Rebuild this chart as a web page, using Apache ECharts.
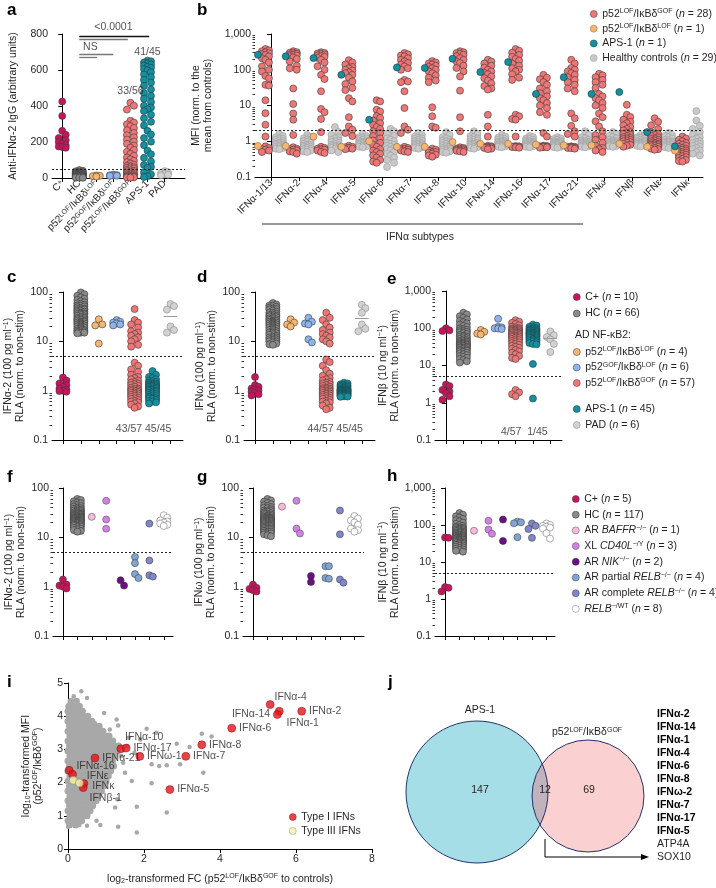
<!DOCTYPE html>
<html>
<head>
<meta charset="utf-8">
<script src="https://cdn.jsdelivr.net/npm/echarts@6.0.0/dist/echarts.min.js"></script>
<style>
html,body{margin:0;padding:0;background:#ffffff;}
#chart{width:716px;height:888px;}
</style>
</head>
<body>
<div id="chart"></div>
<script>
// ======================= DATA =======================
// ---- Panel a: anti-IFN-α2 IgG (arbitrary units)
const aCategories = ['C^{+}', 'HC', 'p52^{LOF}/IκBδ^{LOF}', 'p52^{GOF}/IκBδ^{LOF}', 'p52^{LOF}/IκBδ^{GOF}', 'APS-1', 'PAD'];
const aCpos = [425,345,262,240,222,210,200,190,182,175,172,168];
const aHC = [44,40,37,35,33,31,29,28,27,26,25,24,23,22,21,20,19,18,17,16,15,14,13,12,11,10,9,8,7,6,5,4,3,2,1];
const aLL = [14,12,10,8];
const aGL = [18,16,15,14,13,12];
const aLG = [418,402,380,318,308,298,288,278,265,250,238,226,214,202,190,180,168,156,146,134,124,114,104,96,88,80,74,68,64,60,57,54,52,
             46,43,40,37,34,31,28,25,22,20,18,16,14,12,10,9,8,7,6,5,4,3,2];
const aAPS = [652,648,642,636,630,625,618,612,605,598,588,575,560,545,530,512,492,472,456,440,422,402,392,382,372,352,332,312,292,262,242,222,202,182,152,132,112,92,72,62,56,30,20,10,5];
const aPAD = [38,32,28,22,18,15];
const aThreshold = 50;
const aSigBars = [[1,5.1,790],[1,3.85,772],[1,3,690],[1,2.05,672]];
const aTexts = [['<0.0001',3.0,838],['NS',1.65,725],['33/56',4,483],['41/45',5,700]];

// ---- Panel b: MFI normalized to mean of controls
const bCategories = ['IFNα-1/13','IFNα-2','IFNα-4','IFNα-5','IFNα-6','IFNα-7','IFNα-8','IFNα-10','IFNα-14','IFNα-16','IFNα-17','IFNα-21','IFNω','IFNβ','IFNε','IFNκ'];
const bPatientsGOF = [
 [380,350,330,310,290,275,260,235,210,190,160,124,100,89,67,58,38,36,14,6.1,2.9,1.35,0.72,0.65,0.6,0.55,0.5,0.58],
 [330,310,300,290,280,270,260,250,240,220,200,170,130,110,100,30,11,6,4,1.5,0.68,0.6,0.55,0.5,0.45,0.62,0.58,0.52],
 [310,295,285,275,265,250,240,230,215,190,160,125,100,72,55,25,8,6.5,4.2,1.8,0.7,0.62,0.58,0.55,0.5,0.47,0.6,0.65],
 [185,160,140,120,110,100,95,85,80,72,60,47,40,31,27,16,13,4.7,2.6,2.1,1.7,1.4,0.7,0.68,0.65,0.62,0.6,0.75],
 [14,13,7.6,6.8,5,4.5,3.8,3.2,2.9,2.5,2.2,1.9,1.7,1.4,1.2,1.05,0.9,0.8,0.7,0.6,0.55,0.5,0.45,0.4,0.35,0.3,0.27,0.25],
 [293,270,250,237,210,190,170,154,140,124,110,100,52,47,45,25,8.5,2.6,2.1,1.7,0.7,0.65,0.6,0.55,0.5,0.62,0.58,0.52],
 [175,160,150,140,130,120,110,100,90,80,70,60,50,45,8.9,5,2.6,2.4,0.62,0.55,0.5,0.45,0.4,0.37,0.5,0.48,0.42,0.58],
 [330,310,293,280,263,240,212,190,170,154,130,112,90,65,26,4.7,1.9,0.68,0.62,0.58,0.55,0.52,0.6,0.65,0.56,0.5,0.54,0.6],
 [190,170,150,130,115,100,90,82,75,65,58,50,42,35,30,28,5.5,2.6,1.35,0.75,0.7,0.68,0.65,0.6,0.72,0.66,0.62,0.7],
 [380,340,300,260,230,200,180,150,130,110,100,90,75,60,52,5.5,5,4.2,4,1.35,0.72,0.7,0.68,0.66,0.7,0.74,0.69,0.71],
 [72,60,54,45,38,30,25,22,18,16,14,11.7,10,8.5,6.5,5.5,1.7,1.35,0.72,0.7,0.68,0.66,0.7,0.74,0.69,0.71,0.7,0.75],
 [190,150,112,100,90,80,72,62,52,45,38,30,25,6,4.4,2.7,1.9,1.6,1.35,0.72,0.7,0.68,0.66,0.65,0.7,0.64,0.62,0.7],
 [77,70,62,52,45,38,31,21,18,16,14,11.7,10,8.5,6,4.7,3.6,2.6,1.9,1.5,1.3,1.1,0.9,0.75,0.65,0.6,0.55,0.5],
 [10.5,5.5,4.8,4,3.5,3.2,2.8,2.5,2.2,2,1.8,1.7,1.6,1.5,1.4,1.3,1.25,1.2,1.15,1.1,1.05,1,0.95,0.9,0.85,0.8,0.75,0.7],
 [4.4,3.5,2.8,2.2,1.8,1.6,1.5,1.4,1.3,1.2,1.15,1.1,1.05,1,0.95,0.9,0.88,0.85,0.82,0.8,0.78,0.75,0.72,0.7,0.65,0.62,0.6,0.58],
 [1.35,1.2,1.1,1,0.9,0.85,0.8,0.75,0.7,0.65,0.62,0.6,0.58,0.55,0.52,0.5,0.48,0.46,0.44,0.42,0.4,0.38,0.36,0.34,0.32,0.3,0.28,0.27]
];
const bPatientLOF = [0.74,0.74,1.35,0.7,1.0,0.7,0.7,0.95,0.85,0.85,0.81,0.77,0.77,0.85,0.7,0.55];
const bPatientAPS = [263,237,212,72,4,116,112,204,86,164,21,62,21,23.8,1.8,0.72];
const bControls = [
 [1.6,1.4,1.3,1.2,1.15,1.1,1.05,1,0.95,0.9,0.88,0.85,0.82,0.8,0.78,0.75,0.72,0.7,0.68,0.65,0.62,0.6],
 [1.5,1.3,1.2,1.1,1.05,1,0.95,0.9,0.85,0.8,0.78,0.75,0.72,0.7,0.68,0.65,0.62,0.6,0.58,0.55,0.52,0.5],
 [2.5,1.8,1.5,1.3,1.2,1.1,1.05,1,0.95,0.9,0.85,0.8,0.78,0.75,0.72,0.7,0.68,0.65,0.62,0.6,0.55,0.5],
 [1.6,1.4,1.3,1.25,1.2,1.15,1.1,1.05,1,0.97,0.95,0.92,0.9,0.88,0.85,0.82,0.8,0.78,0.75,0.72,0.7,0.68],
 [2.2,1.9,1.6,1.4,1.2,1.1,1,0.9,0.85,0.8,0.75,0.7,0.65,0.6,0.55,0.5,0.45,0.4,0.35,0.3,0.25,0.19],
 [1.7,1.5,1.35,1.25,1.2,1.15,1.1,1.05,1,0.95,0.9,0.88,0.85,0.82,0.8,0.77,0.75,0.72,0.7,0.68,0.65,0.62],
 [1.8,1.5,1.3,1.2,1.1,1.05,1,0.95,0.9,0.85,0.8,0.75,0.72,0.7,0.65,0.62,0.6,0.58,0.55,0.52,0.5,0.48],
 [1.9,1.6,1.4,1.3,1.2,1.15,1.1,1.05,1,0.95,0.9,0.88,0.85,0.82,0.8,0.78,0.75,0.72,0.7,0.68,0.65,0.62],
 [1.5,1.35,1.25,1.2,1.15,1.1,1.05,1,0.97,0.95,0.92,0.9,0.88,0.85,0.82,0.8,0.78,0.76,0.74,0.72,0.7,0.68],
 [1.4,1.3,1.2,1.15,1.1,1.05,1,0.97,0.95,0.92,0.9,0.88,0.86,0.84,0.82,0.8,0.78,0.76,0.74,0.72,0.7,0.68],
 [1.3,1.2,1.15,1.1,1.05,1,0.97,0.95,0.92,0.9,0.88,0.86,0.84,0.82,0.8,0.78,0.76,0.74,0.72,0.7,0.68,0.66],
 [1.9,1.5,1.3,1.2,1.1,1.05,1,0.97,0.95,0.92,0.9,0.88,0.86,0.84,0.82,0.8,0.78,0.76,0.74,0.72,0.7,0.68],
 [1.8,1.6,1.4,1.3,1.2,1.1,1.05,1,0.97,0.95,0.92,0.9,0.88,0.86,0.84,0.82,0.8,0.78,0.76,0.74,0.72,0.7],
 [1.5,1.4,1.3,1.25,1.2,1.15,1.1,1.05,1,0.97,0.95,0.92,0.9,0.88,0.86,0.84,0.82,0.8,0.78,0.76,0.74,0.72],
 [1.7,1.5,1.4,1.3,1.2,1.1,1.05,1,0.97,0.95,0.92,0.9,0.88,0.85,0.82,0.8,0.78,0.75,0.72,0.7,0.68,0.65],
 [7,3.8,2.7,2.2,1.8,1.5,1.3,1.2,1.1,1,0.95,0.9,0.85,0.8,0.75,0.7,0.65,0.6,0.55,0.5,0.45,0.4]
];
const bThreshold = 2;

// ---- Panels c–e: luciferase RLA (norm. to non-stim)
const cCpos = [1.85,1.6,1.4,1.3,1.2,1.1,1.05,1,0.98,0.95];
const cHC = [98,90,84,78,73,69,65,62,59,57,55,53,51,49,47,46,45,44,42,41,40,39,38,37,36,35,34,33,32,31,30,30,29,28,28,27,26,26,25,25,24,24,23,23,22,22,21,21,20,20,19,19,18,18,17,17,16.5,16,16,15.5,15,15,14.5,36,44,52];
const cLL = [28,22,21,9];
const cGL = [27,25,24,23,22,21];
const cLG = [45,27,24,22,19,16,15,14,13,12,11,10,8.5,7.8,
  3.7,3.2,2.7,2.4,2.1,1.9,1.8,1.7,1.6,1.5,1.45,1.4,1.35,1.3,1.25,1.2,1.15,1.1,1.08,1.05,1.02,1,0.98,0.95,0.92,0.9,0.88,0.85,0.82,0.8,0.78,0.75,0.72,0.7,0.68,0.65,0.62,0.6,0.58,0.55,0.52,0.48,0.45];
const cAPS = [2.5,2.1,1.9,1.8,1.7,1.6,1.55,1.5,1.45,1.4,1.38,1.35,1.32,1.3,1.28,1.25,1.22,1.2,1.18,1.15,1.12,1.1,1.08,1.05,1.02,1,0.98,0.95,0.93,0.9,0.88,0.85,0.82,0.8,0.78,0.75,0.72,0.7,0.68,0.65,0.62,0.6,0.58,0.55,0.7];
const cPAD = [57,52,44,20,17,15];
const cCounts = '43/57 45/45';

const dCpos = [1.9,1.3,1.2,1.1,1.05,1,0.95,0.9,0.85,0.8];
const dHC = [60,56,53,50,48,46,44,42,40,38,36,35,34,33,32,31,30,29,28,27,26,26,25,25,24,24,23,23,22,22,21,21,20,20,19,19,18,18,17,17,16,16,15,15,14.5,14,13.5,13,12.5,12,12,11.5,11,11,10.5,10,10,9.5,9,8.7,8.5,28,32,38,45,52];
const dLL = [28,24,22,20];
const dGL = [30,25,23,22,11,9.5];
const dLG = [38,30,27,22,19,17,15,14,13,12,11,10,9,
  4.3,3.8,3.2,2.6,2.2,2,1.8,1.7,1.6,1.5,1.45,1.4,1.35,1.3,1.25,1.2,1.15,1.12,1.1,1.08,1.05,1.02,1,0.98,0.95,0.92,0.9,0.88,0.85,0.82,0.8,0.78,0.75,0.72,0.7,0.68,0.65,0.62,0.6,0.58,0.55,0.5,0.45,0.42];
const dAPS = [1.45,1.4,1.35,1.3,1.28,1.25,1.22,1.2,1.18,1.15,1.12,1.1,1.08,1.06,1.05,1.04,1.03,1.02,1.01,1,0.99,0.98,0.97,0.96,0.95,0.94,0.93,0.92,0.91,0.9,0.89,0.88,0.87,0.86,0.85,0.84,0.83,0.82,0.81,0.8,0.79,0.78,0.77,0.76,0.75];
const dPAD = [55,47,38,22,18,16];
const dCounts = '44/57 45/45';

const eCpos = [100,88,84,3.1,2.8,2.2,2,1.8,1.5,1.2];
const eHC = [260,235,210,190,172,158,146,135,125,116,108,100,94,88,83,78,74,70,66,63,60,57,54,52,50,48,46,44,42,41,40,39,38,37,36,35,34,33,32,31,30,29,28,27,26,25,24,23,22,21,20,19,18,17,16,15,14,13,12,60,80,90,45,35,30,25];
const eLL = [90,80,72,68];
const eGL = [180,110,105,100,95,98];
const eLG = [165,150,140,130,120,110,105,100,98,95,92,90,88,85,82,80,78,76,74,72,70,68,66,64,62,60,58,56,54,52,50,48,46,44,42,40,38,36,34,32,30,28,26,24,22,20,18,16,15,60,75,85,95,2.2,1.9,1.7,1.5];
const eAPS = [125,118,110,105,100,98,95,92,90,88,85,82,80,78,76,74,72,70,68,66,64,62,60,58,56,54,52,50,48,46,44,42,40,38,37,65,75,85,70,60,55,50,45,11,1.3];
const ePAD = [82,65,58,50,38,23];
const eCounts = '4/57  1/45';
const ceThreshold = 5;

// ---- Panels f–h
const fCpos = [1.4,1.05,1.0,0.92,1.1];
const fHC = [60,57,54,51,49,47,45,43,42,40,39,38,37,36,35,34,33,32,31,30,29.5,29,28.5,28,27.5,27,26.5,26,25.5,25,24.5,24,23.5,23,22.5,22,21.5,21,20.5,20,19.5,19,18.5,18,17.5,17,16.5,16,15.5,15,14.5,14,13.5,13,21,22,23,24,25,26,20,19,18,17,28,30,32,35,19.5,21.5];
const fBAFFR = [26];
const fCD40L = [55,23,15];
const fNIK = [1.35,1.05];
const fPartial = [4.0,3.0,1.8,1.5];
const fComplete = [19,3.4,1.7,1.6];
const fWT = [28,25,22,21,20,19,18,17];

const gCpos = [1.1,0.95,0.85,0.8,0.9];
const gHC = [60,56,53,50,47,45,43,41,39,37,35,34,33,32,31,30,29,28,27,26,25,24.5,24,23.5,23,22.5,22,21.5,21,20.5,20,19.5,19,18.5,18,17.5,17,16.5,16,15.5,15,14.5,14,13.5,13,12.5,12,11.5,11,10.5,22,24,26,28,30,20,18,16,14,12,25,27,21,19,17,15,13,23,35,40];
const gBAFFR = [42];
const gCD40L = [55,15,12];
const gNIK = [1.65,1.25];
const gPartial = [2.6,2.6,1.5,1.45];
const gComplete = [35,11.5,1.4,1.2];
const gWT = [27,24,22,20,18,15,14,13];

const hCpos = [46,45,2.1,2.0,1.6];
const hHC = [210,190,172,158,146,135,125,116,108,100,95,90,86,82,78,75,72,69,66,63,61,59,57,55,53,51,50,48,47,46,45,44,43,42,41,40,39,38,37,36,35,34,33,32,31,30,29,28,27,26,25,24,23,22,21,20,19,65,70,75,80,85,55,60,52,48,44,40,36,32];
const hBAFFR = [70];
const hCD40L = [130,75,58];
const hNIK = [140,37];
const hPartial = [123,118,111,47];
const hComplete = [110,95,78,45];
const hWT = [110,100,95,90,85,80,60,43];

// ---- Panel i
const iTypeI = [
 ['IFNα-4',5.32,4.35],['IFNα-2',6.15,4.15],['IFNα-1',5.56,4.15],['IFNα-14',5.51,4.05],
 ['IFNα-6',4.31,3.64],['IFNα-8',3.52,3.14],['IFNα-7',3.1,2.79],['IFNα-5',2.68,1.79],
 ['IFNα-10',1.39,3.02],['IFNα-17',1.53,3.04],['IFNω-1',1.89,2.79],['IFNα-21',0.71,2.74],
 ['IFNα-16',0.03,2.37],['IFNε',0.12,2.25],['IFNκ',0.42,1.97],['IFNβ-1',0.4,1.85]
];
const iTypeIII = [[0.14,2.07],[0.3,1.99]];
const iGrayOutliers = [[0.71,3.79],[1.28,3.9],[1.32,3.72],[2.07,3.62],[2.33,3.5],[3.52,3.47],[3.78,3.39],[1.9,3.3],[2.86,3.17],[3.2,3.07],[1.6,3.35],[2.2,2.55],[2.4,2.5],[2.6,2.52],[3.56,2.3],[1.68,2.05],[2.2,1.98],[1.5,2.3],[1.45,2.6],[1.81,1.27],[1.24,1.25],[2.6,1.1],[1.81,0.5],[1.32,0.67],[0.3,0.72],[0.5,0.7],[0.85,0.72],[0.75,0.85],[0.0,0.67],[0.15,4.6],[0.5,4.55],[0.35,4.75],[1.0,2.0],[1.3,1.5],[1.4,2.8],[1.55,3.1],[0.95,4.1],[1.1,3.6],[2.95,2.55],[1.75,2.9]];
const iGrayRows = [
 [4.45,[0.08,0.22]],[4.3,[0.02,0.14,0.3]],[4.15,[0.0,0.12,0.24,0.38]],[4.0,[0.03,0.15,0.28,0.4,0.52]],
 [3.85,[0.0,0.12,0.25,0.37,0.5,0.63]],[3.7,[0.04,0.17,0.3,0.43,0.56,0.7,0.82]],
 [3.55,[0.0,0.13,0.26,0.39,0.52,0.65,0.78,0.92]],[3.4,[0.05,0.18,0.31,0.44,0.57,0.7,0.84,0.98,1.08]],
 [3.25,[0.0,0.13,0.26,0.39,0.52,0.65,0.78,0.91,1.04,1.18]],[3.1,[0.04,0.17,0.3,0.43,0.56,0.69,0.82,0.95,1.08,1.22,1.33]],
 [2.95,[0.0,0.13,0.26,0.39,0.52,0.65,0.78,0.91,1.04,1.17,1.3]],[2.8,[0.05,0.18,0.31,0.44,0.57,0.7,0.83,0.96,1.09,1.22]],
 [2.65,[0.0,0.13,0.26,0.39,0.52,0.65,0.78,0.91,1.04,1.17]],[2.5,[0.04,0.17,0.3,0.43,0.56,0.69,0.82,0.95,1.08,1.2]],
 [2.35,[0.0,0.13,0.26,0.39,0.52,0.65,0.78,0.91,1.04,1.12]],[2.2,[0.05,0.18,0.31,0.44,0.57,0.7,0.83,0.96,1.06]],
 [2.05,[0.0,0.13,0.26,0.39,0.52,0.65,0.78,0.91,1.0]],[1.9,[0.04,0.17,0.3,0.43,0.56,0.69,0.82,0.94]],
 [1.75,[0.0,0.13,0.26,0.39,0.52,0.65,0.78,0.88]],[1.6,[0.05,0.18,0.31,0.44,0.57,0.7,0.8]],
 [1.45,[0.0,0.13,0.26,0.39,0.52,0.65,0.74]],[1.3,[0.04,0.17,0.3,0.43,0.56,0.65]],
 [1.15,[0.0,0.13,0.26,0.39,0.5,0.58]],[1.0,[0.05,0.18,0.31,0.42,0.5]],[0.85,[0.0,0.12,0.24,0.36]],[0.72,[0.04,0.2]]
];

// ---- Panel j (Venn)
const jSets = ['APS-1', 'p52^{LOF}/IκBδ^{GOF}'];
const jCounts = [147, 12, 69];
const jShared = ['IFNα-2','IFNα-14','IFNα-1','IFNα-4','IFNα-6','IFNα-8','IFNω-2','IFNα-7','IFNα-17','IFNα-5','ATP4A','SOX10'];
const jSharedBold = 10;

// ======================= STYLE / LAYOUT =======================
const FONT = "'Liberation Sans', Arial, Helvetica, sans-serif";
const TXT = '#231f20';
const C = {cpos:'#C8145C', hc:'#8A8A8A', ll:'#F5B672', gl:'#8DB4EE', lg:'#F07575', aps:'#15909F', pad:'#D2D2D2',
  baffr:'#F8BADA', cd40l:'#D47FE6', nik:'#6B0E88', prelb:'#80A5D3', crelb:'#7F86CB', wt:'#FFFFFF',
  bhc:'#C9C9C9', ired:'#E3141C', iyel:'#F6F2A2', igray:'#A8A8A8'};
const BORDER = '#3a3a3a';

function richFor(fs) {
  return {
    s: {fontSize: Math.round(fs*0.66), verticalAlign: 'top', fontFamily: FONT, color: TXT},
    sub: {fontSize: Math.round(fs*0.66), verticalAlign: 'bottom', fontFamily: FONT, color: TXT},
    i: {fontSize: fs, fontStyle: 'italic', fontFamily: FONT, color: TXT}
  };
}
function rt(s) {
  return s.replace(/\^\{([^}]*)\}/g, '{s|$1}').replace(/_\{([^}]*)\}/g, '{sub|$1}').replace(/~\{([^}]*)\}/g, '{i|$1}');
}
function logFmt(v) {
  const s = +Number(v).toPrecision(3);
  return s >= 1000 ? s.toLocaleString('en-US') : String(s);
}
function minorVals(lo, hi) {
  const out = [];
  for (let d = lo; d < hi; d++) for (let k = 2; k <= 9; k++) out.push(d + Math.log10(k));
  return out;
}
// simple beeswarm layout (pixel space) -> data coords
function swarm(vals, center, pxX, toPx, diam, maxHalf, minFrac) {
  const pts = vals.map(v => ({v, py: toPx(v)})).sort((a, b) => a.py - b.py);
  const placed = [], out = [];
  const step = diam * 0.5;
  const n = Math.max(0, Math.floor(maxHalf / step));
  const cands = [0];
  for (let k = 1; k <= n; k++) cands.push(k * step, -k * step);
  const need = diam * minFrac;
  for (const p of pts) {
    let best = 0, bestD = -1;
    for (const ox of cands) {
      let md = Infinity;
      for (const q of placed) {
        const dy = q.py - p.py;
        if (Math.abs(dy) >= need) continue;
        const d = Math.hypot(ox - q.ox, dy);
        if (d < md) md = d;
      }
      if (md >= need) { best = ox; bestD = md; break; }
      if (md > bestD) { bestD = md; best = ox; }
    }
    placed.push({ox: best, py: p.py});
    out.push([center + best / pxX, p.v]);
  }
  return out;
}

const grids = [], xAxes = [], yAxes = [], series = [];
const AX_LINE = {show: true, onZero: false, lineStyle: {color: '#000', width: 1}};
const AX_TICK = {show: true, length: 4, lineStyle: {color: '#000', width: 1}};
const nameStyle = (fs) => ({fontSize: fs, color: TXT, fontFamily: FONT, lineHeight: 12, rich: richFor(fs)});

function addGrid(box) {
  grids.push(Object.assign({outerBoundsMode: 'none', containLabel: false}, box));
  return grids.length - 1;
}
function stripX(gi, min, max, n, labels) {
  const ticks = Array.from({length: n}, (_, i) => i);
  return {
    gridIndex: gi, type: 'value', min, max, axisLine: AX_LINE, splitLine: {show: false},
    axisTick: Object.assign({customValues: ticks}, AX_TICK),
    axisLabel: labels ? {show: true, customValues: ticks, rotate: 45, fontSize: 10, color: TXT, fontFamily: FONT, margin: 4,
      formatter: v => rt(labels[Math.round(v)] || ''), rich: richFor(10)} : {show: false}
  };
}
function logY(gi, min, max, name, gap) {
  return {
    gridIndex: gi, type: 'log', logBase: 10, min, max, position: 'left',
    axisLine: {show: true, lineStyle: {color: '#000', width: 1}}, axisTick: AX_TICK, splitLine: {show: false},
    axisLabel: {show: true, formatter: logFmt, fontSize: 10.5, color: TXT, fontFamily: FONT, margin: 4},
    name: rt(name), nameLocation: 'middle', nameGap: gap, nameTextStyle: nameStyle(10.5)
  };
}
function minorY(gi, lo, hi) {
  return {gridIndex: gi, type: 'value', min: lo, max: hi, position: 'left', axisLine: {show: false},
    axisLabel: {show: false}, splitLine: {show: false},
    axisTick: {show: true, length: 2.5, customValues: minorVals(lo, hi), lineStyle: {color: '#000', width: 0.8}}};
}
function threshLine(v) {
  return {silent: true, symbol: 'none', label: {show: false}, animation: false,
    lineStyle: {type: [2, 2], color: '#222', width: 1}, data: [{yAxis: v}]};
}
function textSeries(xi, yi, items, fs) {
  return {type: 'scatter', xAxisIndex: xi, yAxisIndex: yi, clip: false, silent: true, symbolSize: 1,
    itemStyle: {color: 'rgba(0,0,0,0)'}, z: 5,
    label: {show: true, position: 'inside', formatter: '{b}', fontSize: fs || 10.5, color: TXT, fontFamily: FONT},
    data: items.map(t => ({name: t[0], value: [t[1], t[2]]}))};
}
function stripSeries(xi, yi, groups, colors, names, pxX, toPx, cfg) {
  return groups.map((vals, k) => ({
    type: 'scatter', name: names[k], xAxisIndex: xi, yAxisIndex: yi,
    data: swarm(vals, k, pxX, toPx, cfg.size, (cfg.half && cfg.half[k]) || cfg.halfDefault, cfg.minFrac),
    symbolSize: cfg.size, silent: true, z: 3,
    itemStyle: {color: colors[k], borderColor: (cfg.borders && cfg.borders[k]) || BORDER, borderWidth: 0.6, opacity: 1}
  }));
}

// ---------- Panel a ----------
{
  const gi = addGrid({left: 52, top: 34, width: 133, height: 144});
  const xi = xAxes.length; xAxes.push(stripX(gi, -0.6, 7.2, 7, aCategories));
  const yi = yAxes.length;
  yAxes.push({gridIndex: gi, type: 'value', min: 0, max: 800, interval: 200, position: 'left',
    axisLine: {show: true, lineStyle: {color: '#000'}}, axisTick: AX_TICK, splitLine: {show: false},
    axisLabel: {fontSize: 10.5, color: TXT, fontFamily: FONT, margin: 4},
    name: 'Anti-IFNα-2 IgG (arbitrary units)', nameLocation: 'middle', nameGap: 33, nameTextStyle: nameStyle(10.5)});
  const ss = stripSeries(xi, yi, [aCpos, aHC, aLL, aGL, aLG, aAPS, aPAD],
    [C.cpos, C.hc, C.ll, C.gl, C.lg, C.aps, C.pad], ['A0','A1','A2','A3','A4','A5','A6'],
    17.05, v => -v * 144 / 800, {size: 7, halfDefault: 5, half: [4, 6, 4, 4, 5, 6, 4], minFrac: 0.85,
      borders: [null, '#333', null, null, null, '#1c3c40', '#888']});
  ss[0].markLine = threshLine(aThreshold);
  ss[1].markLine = {silent: true, symbol: 'none', label: {show: false}, animation: false,
    data: aSigBars.map((b, k) => [{coord: [b[0], b[2]], lineStyle: {color: k === 0 ? '#111' : '#777', width: 1.3, type: 'solid'}},
                                   {coord: [b[1], b[2]]}])};
  series.push(...ss, textSeries(xi, yi, aTexts, 10.5));
}

// ---------- Panel b ----------
{
  const gi = addGrid({left: 255, top: 34, width: 448, height: 143});
  const xi = xAxes.length; xAxes.push(stripX(gi, -0.576, 15.54, 16, bCategories));
  const yi = yAxes.length;
  yAxes.push(logY(gi, 0.1, 1000, 'MFI (norm. to the\nmean from controls)', 31));
  yAxes.push(minorY(gi, -1, 3));
  const pxX = 27.8, toPx = v => -Math.log10(v) * 35.8;
  const gray = [], pink = [], orange = [], teal = [];
  bCategories.forEach((c, k) => {
    gray.push(...swarm(bControls[k], k + 0.3, pxX, toPx, 7, 6, 0.8));
    pink.push(...swarm(bPatientsGOF[k], k - 0.2, pxX, toPx, 7, 6, 0.8));
    orange.push([k - 0.47, bPatientLOF[k]]);
    teal.push([k - 0.47, bPatientAPS[k]]);
  });
  const mk = (name, data, color, border, z) => ({type: 'scatter', name, xAxisIndex: xi, yAxisIndex: yi, data,
    symbolSize: 7, silent: true, z, itemStyle: {color, borderColor: border, borderWidth: 0.6, opacity: 1}});
  const sG = mk('B_hc', gray, C.bhc, '#9a9a9a', 2);
  sG.markLine = threshLine(bThreshold);
  series.push(sG, mk('B_lg', pink, C.lg, BORDER, 3), mk('B_ll', orange, C.ll, '#8a6a40', 4), mk('B_aps', teal, C.aps, '#123a40', 4));
}

// ---------- Panels c, d, e ----------
const ceNames = ['CE_cpos','CE_hc','CE_ll','CE_gl','CE_lg','CE_aps','CE_pad'];
const ceColors = [C.cpos, C.hc, C.ll, C.gl, C.lg, C.aps, C.pad];
const ceBorders = [null, '#333', null, null, null, '#1c3c40', '#888'];
function cePanel(box, xmin, xmax, ylo, yhi, pxDec, pxX, groups, name, gap, counts) {
  const gi = addGrid(box);
  const xi = xAxes.length; xAxes.push(stripX(gi, xmin, xmax, 7, null));
  const yi = yAxes.length;
  yAxes.push(logY(gi, Math.pow(10, ylo), Math.pow(10, yhi), name, gap));
  yAxes.push(minorY(gi, ylo, yhi));
  const ss = stripSeries(xi, yi, groups, ceColors, ceNames, pxX, v => -Math.log10(v) * pxDec,
    {size: 7, halfDefault: 5, half: [5, 6, 5, 5, 5, 6, 5], minFrac: 0.8, borders: ceBorders});
  ss[0].markLine = threshLine(ceThreshold);
  const pad = groups[6].slice().sort((a, b) => a - b);
  const med = (pad[2] + pad[3]) / 2;
  ss[6].markLine = {silent: true, symbol: 'none', label: {show: false}, animation: false,
    lineStyle: {type: 'solid', color: '#9a9a9a', width: 1}, data: [[{coord: [5.62, med]}, {coord: [6.38, med]}]]};
  series.push(...ss, textSeries(xi, yi, [[counts, 4.5, Math.pow(10, ylo) * 1.66]], 10.5));
}
cePanel({left: 52, top: 292, width: 131, height: 148}, -0.61, 6.7, -1, 2, 49.3, 17.9,
  [cCpos, cHC, cLL, cGL, cLG, cAPS, cPAD], 'IFNα-2 (100 pg ml^{−1})\nRLA (norm. to non-stim)', 22, cCounts);
cePanel({left: 244, top: 292, width: 131, height: 148}, -0.62, 6.74, -1, 2, 49.3, 17.8,
  [dCpos, dHC, dLL, dGL, dLG, dAPS, dPAD], 'IFNω (100 pg ml^{−1})\nRLA (norm. to non-stim)', 23, dCounts);
cePanel({left: 435, top: 291, width: 127, height: 149}, -0.63, 6.67, -1, 3, 37.2, 17.4,
  [eCpos, eHC, eLL, eGL, eLG, eAPS, ePAD], 'IFNβ (10 ng ml^{−1})\nRLA (norm. to non-stim)', 28, eCounts);

// ---------- Panels f, g, h ----------
const fhNames = ['FH_cpos','FH_hc','FH_baffr','FH_cd40l','FH_nik','FH_prelb','FH_crelb','FH_wt'];
const fhColors = [C.cpos, C.hc, C.baffr, C.cd40l, C.nik, C.prelb, C.crelb, C.wt];
const fhBorders = [null, '#333', '#555', '#555', '#333', '#444', '#444', '#777'];
function fhPanel(box, xmin, xmax, ylo, yhi, pxDec, pxX, groups, name, gap) {
  const gi = addGrid(box);
  const xi = xAxes.length; xAxes.push(stripX(gi, xmin, xmax, 8, null));
  const yi = yAxes.length;
  yAxes.push(logY(gi, Math.pow(10, ylo), Math.pow(10, yhi), name, gap));
  yAxes.push(minorY(gi, ylo, yhi));
  const ss = stripSeries(xi, yi, groups, fhColors, fhNames, pxX, v => -Math.log10(v) * pxDec,
    {size: 7, halfDefault: 5, half: [4, 5, 4, 4, 4, 4, 4, 5], minFrac: 0.8, borders: fhBorders});
  ss[0].markLine = threshLine(ceThreshold);
  series.push(...ss);
}
fhPanel({left: 53, top: 488, width: 120, height: 148}, -0.69, 7.64, -1, 2, 49.3, 14.4,
  [fCpos, fHC, fBAFFR, fCD40L, fNIK, fPartial, fComplete, fWT], 'IFNα-2 (100 pg ml^{−1})\nRLA (norm. to non-stim)', 24);
fhPanel({left: 243, top: 488, width: 121, height: 148}, -0.69, 7.66, -1, 2, 49.3, 14.5,
  [gCpos, gHC, gBAFFR, gCD40L, gNIK, gPartial, gComplete, gWT], 'IFNω (100 pg ml^{−1})\nRLA (norm. to non-stim)', 23);
fhPanel({left: 435, top: 488, width: 120, height: 148}, -0.69, 7.59, -1, 3, 37, 14.5,
  [hCpos, hHC, hBAFFR, hCD40L, hNIK, hPartial, hComplete, hWT], 'IFNβ (10 ng ml^{−1})\nRLA (norm. to non-stim)', 28);

// ---------- Panel i ----------
{
  const gi = addGrid({left: 68, top: 683, width: 304, height: 166});
  const xi = xAxes.length;
  xAxes.push({gridIndex: gi, type: 'value', min: 0, max: 8, interval: 2, axisLine: AX_LINE, axisTick: AX_TICK,
    splitLine: {show: false}, axisLabel: {fontSize: 10.5, color: TXT, fontFamily: FONT, margin: 5},
    name: rt('log_{2}-transformed FC (p52^{LOF}/IκBδ^{GOF} to controls)'), nameLocation: 'middle', nameGap: 24,
    nameTextStyle: nameStyle(10.5)});
  const yi = yAxes.length;
  yAxes.push({gridIndex: gi, type: 'value', min: 0, max: 5, interval: 1, position: 'left',
    axisLine: {show: true, lineStyle: {color: '#000'}}, axisTick: AX_TICK, splitLine: {show: false},
    axisLabel: {fontSize: 10.5, color: TXT, fontFamily: FONT, margin: 5},
    name: rt('log_{10}-transformed MFI\n(p52^{LOF}/IκBδ^{GOF})'), nameLocation: 'middle', nameGap: 24,
    nameTextStyle: nameStyle(10.5)});
  const blob = [];
  iGrayRows.forEach(r => r[1].forEach(x => blob.push([x, r[0]])));
  series.push({type: 'scatter', name: 'I_bg', xAxisIndex: xi, yAxisIndex: yi, data: blob,
    symbolSize: 7, silent: true, z: 2, itemStyle: {color: C.igray, opacity: 1}});
  series.push({type: 'scatter', name: 'I_bg2', xAxisIndex: xi, yAxisIndex: yi, data: iGrayOutliers,
    symbolSize: 4.5, silent: true, z: 2, itemStyle: {color: C.igray, opacity: 1}});
  const labelPos = {
    'IFNα-4': [-3, -7], 'IFNα-1': [0, 12], 'IFNα-10': [-3, -12], 'IFNα-16': [0, -4],
    'IFNε': [7, 2], 'IFNκ': [1, 3], 'IFNβ-1': [-1, 11]
  };
  series.push({type: 'scatter', name: 'Type I IFNs', xAxisIndex: xi, yAxisIndex: yi, symbolSize: 8, silent: true, z: 4,
    itemStyle: {color: C.ired, borderColor: '#8a0a0a', borderWidth: 0.6},
    label: {show: true, formatter: '{b}', position: 'right', distance: 3, fontSize: 10.5, color: TXT, fontFamily: FONT},
    data: iTypeI.map(t => ({name: t[0], value: [t[1], t[2]],
      label: t[0] === 'IFNα-14' ? {position: 'left', offset: [0, 0]} : {offset: labelPos[t[0]] || [0, 0]}}))});
  series.push({type: 'scatter', name: 'Type III IFNs', xAxisIndex: xi, yAxisIndex: yi, symbolSize: 8, silent: true, z: 4,
    itemStyle: {color: C.iyel, borderColor: '#777', borderWidth: 0.6}, data: iTypeIII});
}

// ---------- Legends ----------
const LBL = {
  B_lg: 'p52^{LOF}/IκBδ^{GOF} (~{n} = 28)', B_ll: 'p52^{LOF}/IκBδ^{LOF} (~{n} = 1)', B_aps: 'APS-1 (~{n} = 1)', B_hc: 'Healthy controls (~{n} = 29)',
  CE_cpos: 'C+ (~{n} = 10)', CE_hc: 'HC (~{n} = 66)', CE_ll: 'p52^{LOF}/IκBδ^{LOF} (~{n} = 4)', CE_gl: 'p52^{GOF}/IκBδ^{LOF} (~{n} = 6)',
  CE_lg: 'p52^{LOF}/IκBδ^{GOF} (~{n} = 57)', CE_aps: 'APS-1 (~{n} = 45)', CE_pad: 'PAD (~{n} = 6)',
  FH_cpos: 'C+ (~{n} = 5)', FH_hc: 'HC (~{n} = 117)', FH_baffr: 'AR ~{BAFFR}^{−/−} (~{n} = 1)', FH_cd40l: 'XL ~{CD40L}^{−/Y} (~{n} = 3)',
  FH_nik: 'AR ~{NIK}^{−/−} (~{n} = 2)', FH_prelb: 'AR partial ~{RELB}^{−/−} (~{n} = 4)', FH_crelb: 'AR complete ~{RELB}^{−/−} (~{n} = 4)',
  FH_wt: '~{RELB}^{−/WT} (~{n} = 8)', 'Type I IFNs': 'Type I IFNs', 'Type III IFNs': 'Type III IFNs'
};
function legendCfg(names, left, top, gap) {
  return {show: true, orient: 'vertical', left, top, itemWidth: 7, itemHeight: 7, itemGap: gap, icon: 'circle',
    selectedMode: false, padding: 0, data: names, formatter: n => rt(LBL[n]),
    itemStyle: {borderWidth: 0.5},
    textStyle: {fontSize: 10.5, color: TXT, fontFamily: FONT, lineHeight: 12, rich: richFor(10.5)}};
}
const legends = [
  legendCfg(['B_lg', 'B_ll', 'B_aps', 'B_hc'], 590, 8, 2.7),
  legendCfg(['CE_cpos', 'CE_hc'], 573, 291, 4.5),
  legendCfg(['CE_ll', 'CE_gl', 'CE_lg'], 573, 346, 3.5),
  legendCfg(['CE_aps', 'CE_pad'], 573, 403, 4),
  legendCfg(fhNames, 572, 493, 3.7),
  legendCfg(['Type I IFNs', 'Type III IFNs'], 289, 811, 2)
];

// ---------- Graphic elements ----------
const graphics = [];
const txt = (x, y, text, o) => graphics.push({type: 'text', x, y, silent: true, z: 10,
  style: Object.assign({text, fill: TXT, fontSize: 10.5, fontFamily: FONT, align: 'left', verticalAlign: 'middle',
    textAlign: 'left', textVerticalAlign: 'middle'}, o || {})});
[['a', 7, 10.5], ['b', 197, 10.5], ['c', 7, 277], ['d', 197, 277], ['e', 387, 279], ['f', 7, 477], ['g', 197, 477],
 ['h', 387, 476], ['i', 7, 682], ['j', 388, 682]].forEach(l => txt(l[1], l[2], l[0], {fontSize: 17, fontWeight: 'bold', fill: '#000'}));
txt(575, 335, 'AD NF-κB2:');
graphics.push({type: 'line', silent: true, shape: {x1: 262, y1: 224, x2: 583, y2: 224}, style: {stroke: '#333', lineWidth: 1}});
txt(420, 237, 'IFNα subtypes', {align: 'center', textAlign: 'center'});

// Venn
{
  const c1 = {x: 477, y: 792, r: 71}, c2 = {x: 588, y: 796, r: 56};
  graphics.push({type: 'circle', silent: true, z: 1, shape: {cx: c1.x, cy: c1.y, r: c1.r}, style: {fill: '#A6DEE7', stroke: null}});
  graphics.push({type: 'circle', silent: true, z: 1, shape: {cx: c2.x, cy: c2.y, r: c2.r}, style: {fill: '#FAD0D0', stroke: null}});
  const dx = c2.x - c1.x, dy = c2.y - c1.y, d = Math.hypot(dx, dy);
  const a = (d * d + c1.r * c1.r - c2.r * c2.r) / (2 * d);
  const phi = Math.atan2(dy, dx);
  const t1 = Math.acos(a / c1.r), t2 = Math.acos((d - a) / c2.r);
  const pts = [];
  for (let k = 0; k <= 40; k++) { const t = phi - t1 + 2 * t1 * k / 40; pts.push([c1.x + c1.r * Math.cos(t), c1.y + c1.r * Math.sin(t)]); }
  for (let k = 0; k <= 40; k++) { const t = phi + Math.PI - t2 + 2 * t2 * k / 40; pts.push([c2.x + c2.r * Math.cos(t), c2.y + c2.r * Math.sin(t)]); }
  graphics.push({type: 'polygon', silent: true, z: 2, shape: {points: pts}, style: {fill: '#C0B3BD', stroke: null}});
  graphics.push({type: 'circle', silent: true, z: 3, shape: {cx: c1.x, cy: c1.y, r: c1.r}, style: {fill: null, stroke: '#26346A', lineWidth: 1}});
  graphics.push({type: 'circle', silent: true, z: 3, shape: {cx: c2.x, cy: c2.y, r: c2.r}, style: {fill: null, stroke: '#26346A', lineWidth: 1}});
  txt(480, 710, jSets[0], {align: 'center', textAlign: 'center'});
  txt(587, 732, rt(jSets[1]), {align: 'center', textAlign: 'center', rich: richFor(10.5)});
  txt(480, 790, String(jCounts[0]), {align: 'center', textAlign: 'center'});
  txt(545, 790, String(jCounts[1]), {align: 'center', textAlign: 'center'});
  txt(589, 790, String(jCounts[2]), {align: 'center', textAlign: 'center'});
  graphics.push({type: 'polyline', silent: true, z: 4, shape: {points: [[545, 839], [545, 857], [642, 857]]}, style: {stroke: '#000', lineWidth: 1, fill: null}});
  graphics.push({type: 'polygon', silent: true, z: 4, shape: {points: [[641, 854], [649, 857], [641, 860]]}, style: {fill: '#000'}});
  jShared.forEach((s, k) => txt(657, 714 + k * 13, s, k < jSharedBold ? {fontWeight: 'bold', fill: '#000'} : {}));
}

const option = {
  backgroundColor: '#ffffff', animation: false, textStyle: {fontFamily: FONT},
  grid: grids, xAxis: xAxes, yAxis: yAxes, series, legend: legends, graphic: {elements: graphics}
};
const chart = echarts.init(document.getElementById('chart'), null, {renderer: 'canvas'});
chart.setOption(option);
</script>
</body>
</html>
